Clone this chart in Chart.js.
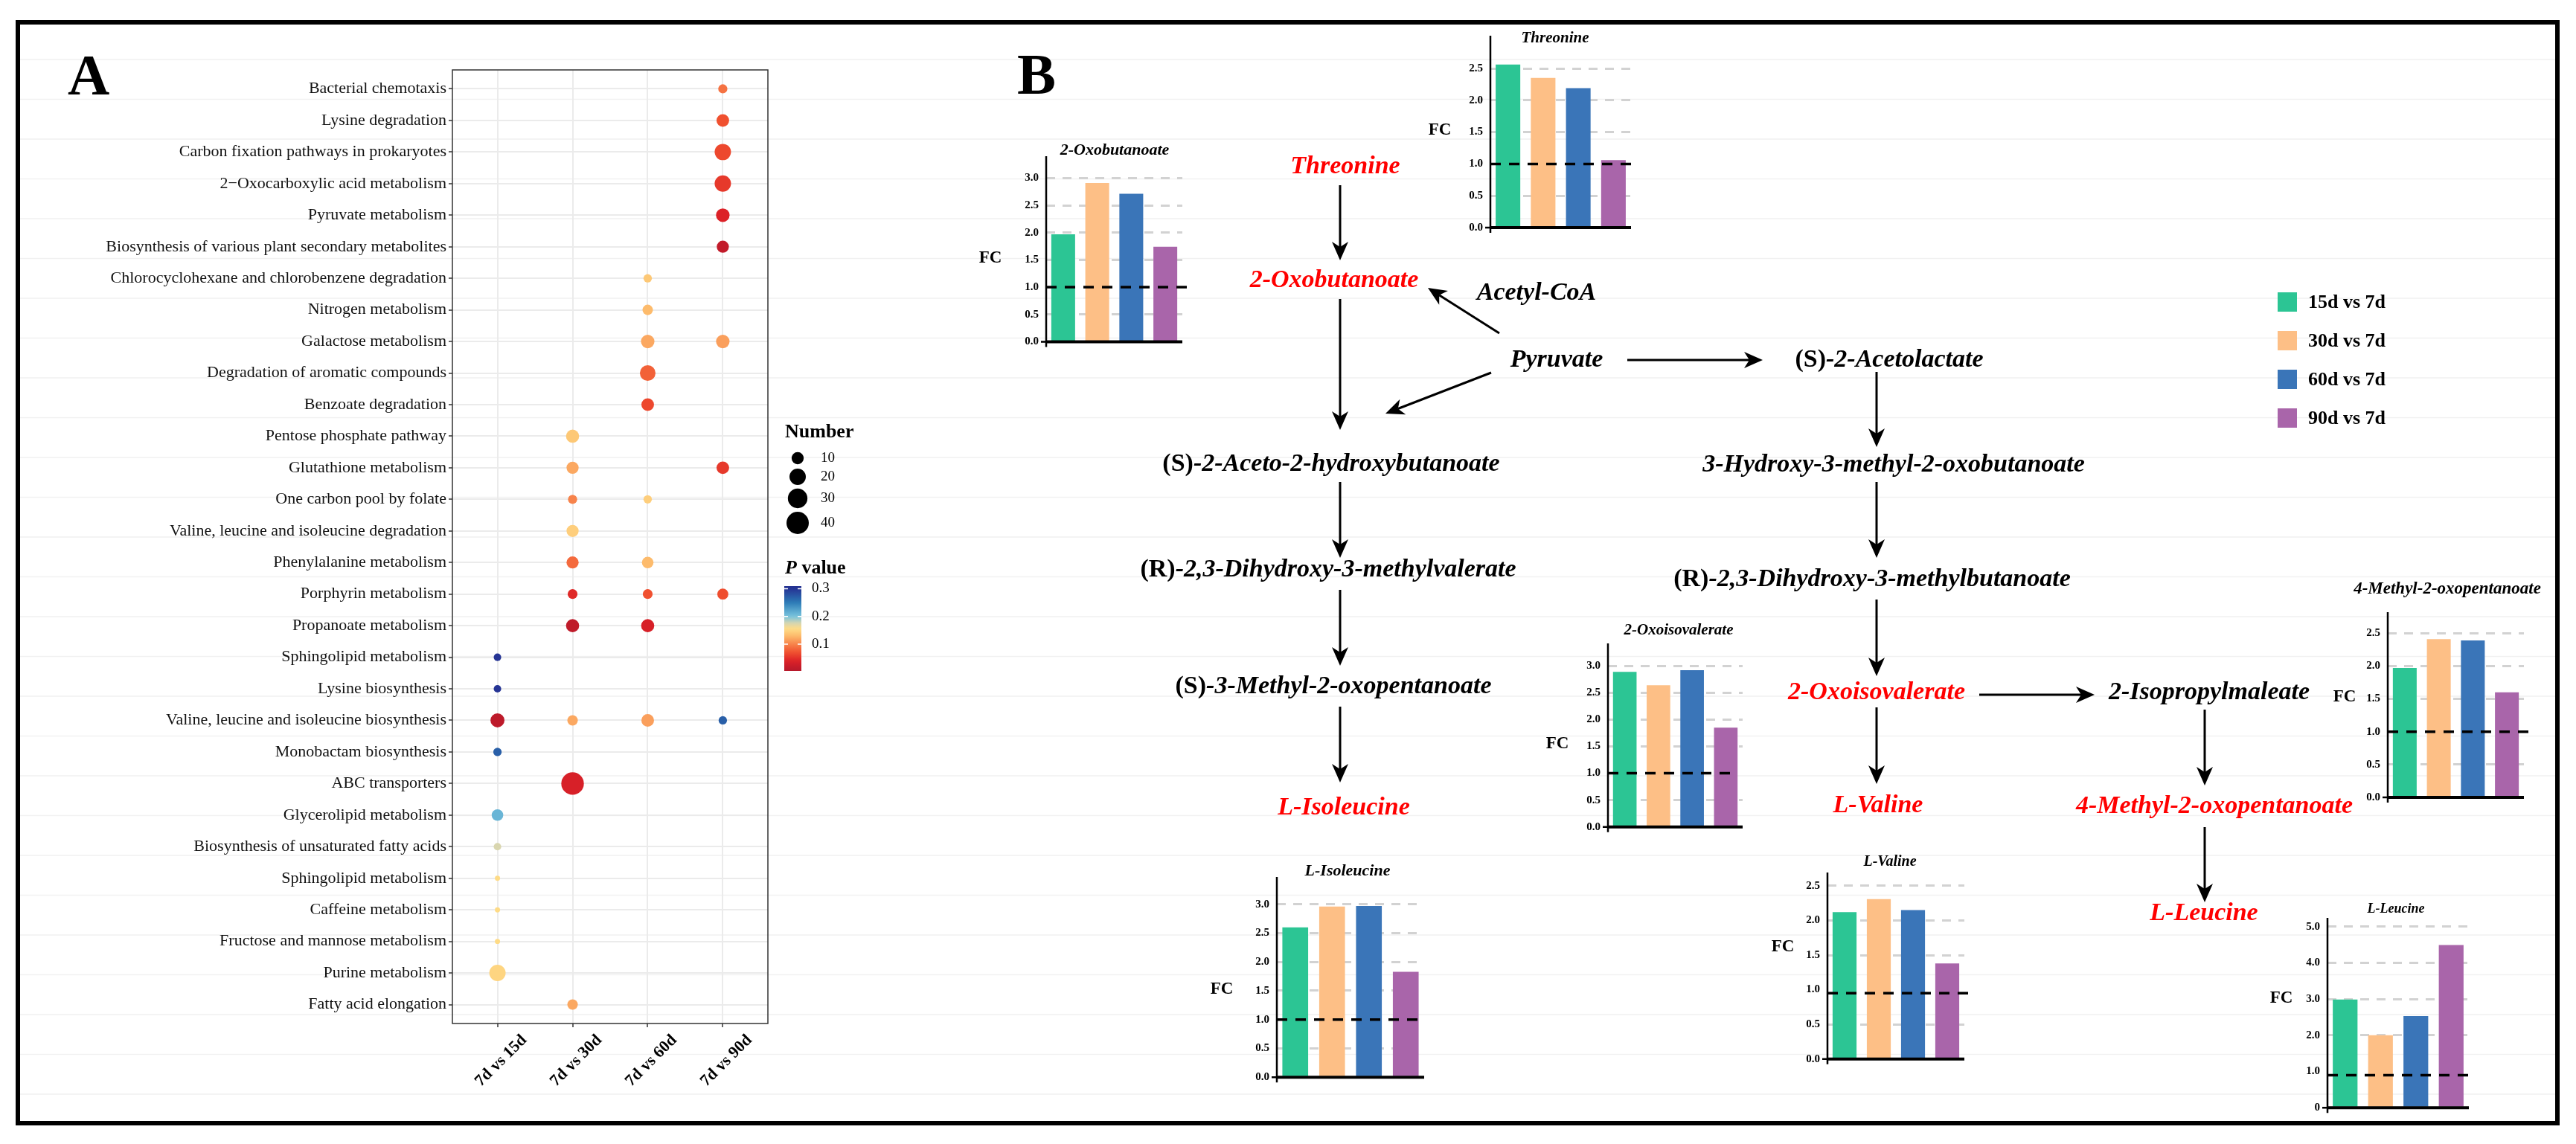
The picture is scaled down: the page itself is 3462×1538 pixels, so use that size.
<!DOCTYPE html>
<html>
<head>
<meta charset="utf-8">
<script src="https://cdn.jsdelivr.net/npm/chart.js@4.4.1/dist/chart.umd.min.js"></script>
<style>
  html, body { margin: 0; padding: 0; background: #fff; }
  #fig { position: relative; width: 3462px; height: 1538px; overflow: hidden; }
  #fig canvas { position: absolute; }
</style>
</head>
<body>
<div id="fig">
  <canvas id="bg" width="3462" height="1538" style="left:0;top:0"></canvas>
  <canvas id="dots" width="1290" height="1538" style="left:0;top:0"></canvas>
</div>
<script>
// ---------- panel A data ----------
const comparisons = ['7d vs 15d', '7d vs 30d', '7d vs 60d', '7d vs 90d'];
const pathways = [
  'Bacterial chemotaxis', 'Lysine degradation', 'Carbon fixation pathways in prokaryotes',
  '2\u2212Oxocarboxylic acid metabolism', 'Pyruvate metabolism',
  'Biosynthesis of various plant secondary metabolites',
  'Chlorocyclohexane and chlorobenzene degradation', 'Nitrogen metabolism',
  'Galactose metabolism', 'Degradation of aromatic compounds', 'Benzoate degradation',
  'Pentose phosphate pathway', 'Glutathione metabolism', 'One carbon pool by folate',
  'Valine, leucine and isoleucine degradation', 'Phenylalanine metabolism',
  'Porphyrin metabolism', 'Propanoate metabolism', 'Sphingolipid metabolism',
  'Lysine biosynthesis', 'Valine, leucine and isoleucine biosynthesis',
  'Monobactam biosynthesis', 'ABC transporters', 'Glycerolipid metabolism',
  'Biosynthesis of unsaturated fatty acids', 'Sphingolipid metabolism',
  'Caffeine metabolism', 'Fructose and mannose metabolism', 'Purine metabolism',
  'Fatty acid elongation'
];
// one entry per dot
const dotPathway    = [0, 1, 2, 3, 4, 5, 6, 7, 8, 8, 9, 10, 11, 12, 12, 13, 13, 14, 15, 15,
                       16, 16, 16, 17, 17, 18, 19, 20, 20, 20, 20, 21, 22, 23, 24, 25, 26, 27, 28, 29];
const dotComparison = [3, 3, 3, 3, 3, 3, 2, 2, 2, 3, 2, 2, 1, 1, 3, 1, 2, 1, 1, 2,
                       1, 2, 3, 1, 2, 0, 0, 0, 1, 2, 3, 0, 1, 0, 0, 0, 0, 0, 0, 1];
const dotNumber     = [5, 11, 20, 20, 13, 10, 4, 7, 13, 13, 18, 11, 12, 10, 11, 5, 4, 10, 10, 9,
                       6, 6, 8, 12, 12, 3, 3, 14, 7, 11, 4, 4, 41, 9, 3, 1, 1, 1, 20, 7];
const dotPValue     = [0.09, 0.07, 0.065, 0.055, 0.04, 0.015, 0.14, 0.13, 0.12, 0.115, 0.08, 0.065,
                       0.14, 0.12, 0.055, 0.10, 0.145, 0.145, 0.085, 0.13,
                       0.045, 0.07, 0.068, 0.012, 0.035, 0.30, 0.30, 0.01, 0.12, 0.115, 0.27,
                       0.27, 0.035, 0.21, 0.175, 0.155, 0.155, 0.155, 0.15, 0.12];
const sizeBreaks = [10, 20, 30, 40];
const pBreaks = [0.1, 0.2, 0.3];

// ---------- panel B data ----------
const fcGroups = ['15d vs 7d', '30d vs 7d', '60d vs 7d', '90d vs 7d'];
const fcThreonine      = [2.56, 2.35, 2.19, 1.06];
const fcOxobutanoate   = [1.97, 2.91, 2.71, 1.74];
const fcOxoisovalerate = [2.89, 2.64, 2.92, 1.85];
const fcIsoleucine     = [2.60, 2.96, 2.97, 1.83];
const fcValine         = [2.12, 2.31, 2.15, 1.38];
const fcLeucine        = [2.99, 2.00, 2.53, 4.49];
const fcMethylOxo      = [1.97, 2.41, 2.39, 1.60];
const ticks25 = [0, 0.5, 1, 1.5, 2, 2.5];
const ticks30 = [0, 0.5, 1, 1.5, 2, 2.5, 3];
const ticks50 = [0, 1, 2, 3, 4, 5];
const ticks50Text = ['0', '1.0', '2.0', '3.0', '4.0', '5.0'];

// ---------- styles ----------
const SERIF = '"Liberation Serif", "Times New Roman", serif';
const fcColors = ['#2cc594', '#fdbf86', '#3a75b8', '#a965aa'];
const pStops = [
  [0.00, [178, 24, 43]], [0.04, [220, 33, 39]], [0.07, [240, 80, 47]],
  [0.10, [247, 131, 75]], [0.13, [253, 187, 108]], [0.155, [254, 219, 134]],
  [0.175, [217, 214, 175]], [0.20, [120, 196, 222]], [0.25, [44, 123, 182]],
  [0.30, [37, 52, 148]], [0.32, [35, 45, 140]]
];
Chart.defaults.font.family = SERIF;

function pColor(p) {
  let i = 0;
  while (i < pStops.length - 2 && p > pStops[i + 1][0]) i++;
  const [p0, c0] = pStops[i], [p1, c1] = pStops[i + 1];
  const t = Math.max(0, Math.min(1, (p - p0) / (p1 - p0)));
  const c = c0.map((v, k) => Math.round(v + (c1[k] - v) * t));
  return `rgb(${c[0]},${c[1]},${c[2]})`;
}
function dotRadius(n) { return (2.6 + 4.33 * Math.sqrt(n)) / 2; }

const fig = document.getElementById('fig');

// ---------- background: frame, pathway, legend ----------
const nodes = [
  ['', 'Threonine', 1808, 233, 'red'],
  ['', '2-Oxobutanoate', 1793, 386, 'red'],
  ['', 'Acetyl-CoA', 2065, 403, 'black'],
  ['', 'Pyruvate', 2092, 493, 'black'],
  ['(S)', '-2-Acetolactate', 2539, 493, 'black'],
  ['(S)', '-2-Aceto-2-hydroxybutanoate', 1789, 633, 'black'],
  ['', '3-Hydroxy-3-methyl-2-oxobutanoate', 2545, 634, 'black'],
  ['(R)', '-2,3-Dihydroxy-3-methylvalerate', 1785, 775, 'black'],
  ['(R)', '-2,3-Dihydroxy-3-methylbutanoate', 2516, 788, 'black'],
  ['(S)', '-3-Methyl-2-oxopentanoate', 1792, 932, 'black'],
  ['', '2-Oxoisovalerate', 2522, 940, 'red'],
  ['', '2-Isopropylmaleate', 2969, 940, 'black'],
  ['', 'L-Isoleucine', 1806, 1095, 'red'],
  ['', 'L-Valine', 2524, 1092, 'red'],
  ['', '4-Methyl-2-oxopentanoate', 2976, 1093, 'red'],
  ['', 'L-Leucine', 2962, 1237, 'red']
];
const arrows = [
  [1801, 249, 1801, 350], [2015, 448, 1919, 387], [1801, 402, 1801, 578],
  [2004, 501, 1862, 556], [2187, 484, 2369, 484], [1801, 648, 1801, 750],
  [1801, 793, 1801, 895], [1801, 950, 1801, 1052], [2522, 500, 2522, 601],
  [2522, 648, 2522, 750], [2522, 806, 2522, 909], [2660, 934, 2815, 934],
  [2522, 951, 2522, 1054], [2963, 954, 2963, 1056], [2963, 1112, 2963, 1213]
];

function drawArrow(ctx, x1, y1, x2, y2) {
  const a = Math.atan2(y2 - y1, x2 - x1), c = Math.cos(a), s = Math.sin(a);
  const len = 25, half = 11, notch = 7;
  ctx.lineWidth = 3;
  ctx.beginPath();
  ctx.moveTo(x1, y1);
  ctx.lineTo(x2 - c * (len - notch), y2 - s * (len - notch));
  ctx.stroke();
  ctx.beginPath();
  ctx.moveTo(x2, y2);
  ctx.lineTo(x2 - c * len - s * half, y2 - s * len + c * half);
  ctx.lineTo(x2 - c * (len - notch), y2 - s * (len - notch));
  ctx.lineTo(x2 - c * len + s * half, y2 - s * len - c * half);
  ctx.closePath();
  ctx.fill();
}

function drawBackground() {
  const ctx = document.getElementById('bg').getContext('2d');
  ctx.fillStyle = '#fff';
  ctx.fillRect(0, 0, 3462, 1538);
  ctx.strokeStyle = '#f1f1f1';
  ctx.lineWidth = 1.5;
  for (let y = 80; y < 1500; y += 53.5) {
    ctx.beginPath(); ctx.moveTo(26, y); ctx.lineTo(3436, y); ctx.stroke();
  }
  ctx.strokeStyle = '#000';
  ctx.lineWidth = 6;
  ctx.strokeRect(24, 30, 3413, 1480);

  ctx.fillStyle = '#000';
  ctx.textBaseline = 'alphabetic';
  ctx.textAlign = 'left';
  ctx.font = `bold 78px ${SERIF}`;
  ctx.fillText('A', 91, 127);
  ctx.fillText('B', 1367, 126);

  nodes.forEach(([pre, name, cx, base, color]) => {
    const fPre = `bold 34px ${SERIF}`, fName = `bold italic 34px ${SERIF}`;
    ctx.font = fPre;
    const w1 = pre ? ctx.measureText(pre).width : 0;
    ctx.font = fName;
    const w2 = ctx.measureText(name).width;
    const x = cx - (w1 + w2) / 2;
    ctx.fillStyle = color === 'red' ? '#ff0000' : '#000';
    if (pre) { ctx.font = fPre; ctx.fillText(pre, x, base); }
    ctx.font = fName;
    ctx.fillText(name, x + w1, base);
  });

  ctx.fillStyle = '#000';
  ctx.strokeStyle = '#000';
  arrows.forEach(a => drawArrow(ctx, ...a));

  // group legend
  const legY = [393, 445, 497, 549];
  ctx.font = `bold 26px ${SERIF}`;
  ctx.textBaseline = 'middle';
  fcGroups.forEach((g, i) => {
    ctx.fillStyle = fcColors[i];
    ctx.fillRect(3061, legY[i], 26, 26);
    ctx.fillStyle = '#000';
    ctx.fillText(g, 3102, legY[i] + 14);
  });
}
drawBackground();

// ---------- panel A dot plot ----------
const dotDecor = {
  id: 'dotDecor',
  afterDatasetsDraw(chart) {
    const { ctx, chartArea: a } = chart;
    ctx.save();
    ctx.strokeStyle = '#333';
    ctx.lineWidth = 1.5;
    ctx.strokeRect(a.left, a.top, a.right - a.left, a.bottom - a.top);
    ctx.restore();
  },
  afterDraw(chart) {
    const { ctx } = chart;
    const xs = chart.scales.x;
    ctx.save();
    ctx.fillStyle = '#000';
    ctx.font = `bold 22px ${SERIF}`;
    ctx.textAlign = 'right';
    ctx.textBaseline = 'middle';
    comparisons.forEach((c, i) => {
      ctx.save();
      ctx.translate(xs.getPixelForValue(i) + 36, 1395);
      ctx.rotate(-Math.PI / 4);
      ctx.fillText(c, 0, 0);
      ctx.restore();
    });

    // size legend
    ctx.textAlign = 'left';
    ctx.textBaseline = 'alphabetic';
    ctx.font = `bold 26px ${SERIF}`;
    ctx.fillText('Number', 1055, 588);
    const sizeY = [616, 641, 670, 703];
    ctx.font = `19px ${SERIF}`;
    ctx.textBaseline = 'middle';
    sizeBreaks.forEach((n, i) => {
      ctx.beginPath();
      ctx.arc(1072, sizeY[i], dotRadius(n), 0, Math.PI * 2);
      ctx.fill();
      ctx.fillText(String(n), 1103, sizeY[i]);
    });

    // p value colour bar
    ctx.textBaseline = 'alphabetic';
    ctx.font = `bold italic 26px ${SERIF}`;
    ctx.fillText('P', 1055, 771);
    const wP = ctx.measureText('P').width;
    ctx.font = `bold 26px ${SERIF}`;
    ctx.fillText(' value', 1055 + wP, 771);
    const yOf = p => 866 - (p - 0.1) * 373;
    const top = 788, bot = 902;
    const pTop = 0.1 + (866 - top) / 373, pBot = 0.1 - (bot - 866) / 373;
    const grad = ctx.createLinearGradient(0, bot, 0, top);
    for (let k = 0; k <= 30; k++) {
      const p = pBot + (pTop - pBot) * k / 30;
      grad.addColorStop(k / 30, pColor(p));
    }
    ctx.fillStyle = grad;
    ctx.fillRect(1054, top, 23, bot - top);
    ctx.strokeStyle = '#fff';
    ctx.lineWidth = 1.5;
    ctx.fillStyle = '#000';
    ctx.font = `19px ${SERIF}`;
    ctx.textBaseline = 'middle';
    pBreaks.forEach(p => {
      const y = yOf(p);
      ctx.beginPath();
      ctx.moveTo(1054, y); ctx.lineTo(1059, y);
      ctx.moveTo(1072, y); ctx.lineTo(1077, y);
      ctx.stroke();
      ctx.fillText(p.toFixed(1), 1091, y);
    });
    ctx.restore();
  }
};

new Chart(document.getElementById('dots'), {
  type: 'scatter',
  data: {
    datasets: [{
      data: dotPathway.map((row, i) => ({ x: dotComparison[i], y: row })),
      pointRadius: c => dotRadius(dotNumber[c.dataIndex]),
      pointHoverRadius: c => dotRadius(dotNumber[c.dataIndex]),
      pointBackgroundColor: c => pColor(dotPValue[c.dataIndex]),
      pointBorderWidth: 0
    }]
  },
  options: {
    responsive: false,
    animation: false,
    devicePixelRatio: 1,
    layout: { padding: { left: 30, top: 94, right: 258, bottom: 0 } },
    plugins: { legend: { display: false }, tooltip: { enabled: false } },
    scales: {
      x: {
        type: 'linear', min: -0.6, max: 3.6,
        afterBuildTicks: s => { s.ticks = comparisons.map((_, i) => ({ value: i })); },
        afterFit: s => { s.height = 162; },
        ticks: { display: false },
        grid: { color: '#ebebeb', lineWidth: 2, tickColor: '#333', tickLength: 5, tickWidth: 1.5 },
        border: { display: false }
      },
      y: {
        type: 'linear', reverse: true, min: -0.6, max: 29.6,
        afterBuildTicks: s => { s.ticks = pathways.map((_, i) => ({ value: i })); },
        afterFit: s => { s.width = 578; },
        ticks: {
          autoSkip: false, padding: 3, color: '#111',
          font: { family: SERIF, size: 22 },
          callback: v => pathways[Math.round(v)]
        },
        grid: { color: '#ebebeb', lineWidth: 2, tickColor: '#333', tickLength: 5, tickWidth: 1.5 },
        border: { display: false }
      }
    }
  },
  plugins: [dotDecor]
});

// ---------- panel B fold-change bar charts ----------
const barPanels = [
  { title: 'Threonine', values: fcThreonine, ticks: ticks25,
    axis: { x0: 2003, x1: 2192, top: 48, zero: 306 }, topTick: [2.5, 92],
    titlePos: [2090, 57, 21], fcPos: [1935, 175], ref: 1, refEnd: 2200 },
  { title: '2-Oxobutanoate', values: fcOxobutanoate, ticks: ticks30,
    axis: { x0: 1406, x1: 1589, top: 210, zero: 459.5 }, topTick: [3, 239.3],
    titlePos: [1498, 208, 22], fcPos: [1331, 347], ref: 1, refEnd: 1600 },
  { title: '2-Oxoisovalerate', values: fcOxoisovalerate, ticks: ticks30,
    axis: { x0: 2161, x1: 2342, top: 865, zero: 1111.7 }, topTick: [3, 895.3],
    titlePos: [2256, 853, 21], fcPos: [2093, 1000], ref: 1, refEnd: 2335 },
  { title: 'L-Isoleucine', values: fcIsoleucine, ticks: ticks30,
    axis: { x0: 1716, x1: 1914, top: 1179, zero: 1448.3 }, topTick: [3, 1215.7],
    titlePos: [1811, 1177, 22], fcPos: [1642, 1330], ref: 1, refEnd: 1916 },
  { title: 'L-Valine', values: fcValine, ticks: ticks25,
    axis: { x0: 2456, x1: 2640, top: 1173, zero: 1423.7 }, topTick: [2.5, 1191],
    titlePos: [2540, 1164, 20], fcPos: [2396, 1273], ref: 0.95, refEnd: 2646 },
  { title: 'L-Leucine', values: fcLeucine, ticks: ticks50, tickText: ticks50Text,
    axis: { x0: 3128, x1: 3318, top: 1234, zero: 1489.3 }, topTick: [5, 1245.7],
    titlePos: [3220, 1227, 18], fcPos: [3066, 1342], ref: 0.9, refEnd: 3320 },
  { title: '4-Methyl-2-oxopentanoate', values: fcMethylOxo, ticks: ticks25,
    axis: { x0: 3209, x1: 3392, top: 823, zero: 1072.1 }, topTick: [2.5, 851.3],
    titlePos: [3289, 798, 23], fcPos: [3151, 937], ref: 1, refEnd: 3399 }
];

function makeBar(p) {
  const ax = p.axis;
  const left = Math.round(ax.x0 - 150);
  const top = Math.floor(Math.min(ax.top, p.titlePos[1] - 30) - 10);
  const right = Math.ceil(Math.max(ax.x1, p.refEnd) + 30);
  const bottom = Math.ceil(ax.zero + 30);
  const cv = document.createElement('canvas');
  cv.width = right - left;
  cv.height = bottom - top;
  cv.style.left = left + 'px';
  cv.style.top = top + 'px';
  fig.appendChild(cv);
  const yW = 50;
  const yMax = p.topTick[0] * (ax.zero - ax.top) / (ax.zero - p.topTick[1]);

  const decor = {
    id: 'fcDecor',
    afterDatasetsDraw(chart) {
      const { ctx, chartArea: a, scales: { y } } = chart;
      ctx.save();
      ctx.strokeStyle = '#000';
      ctx.lineWidth = 2.5;
      ctx.beginPath();
      ctx.moveTo(a.left, a.top); ctx.lineTo(a.left, a.bottom + 7);
      ctx.moveTo(a.left - 7, a.bottom); ctx.lineTo(a.left, a.bottom);
      ctx.stroke();
      ctx.lineWidth = 4;
      ctx.beginPath();
      ctx.moveTo(a.left, a.bottom); ctx.lineTo(a.right, a.bottom);
      ctx.stroke();
      const yr = y.getPixelForValue(p.ref);
      ctx.setLineDash([14, 11]);
      ctx.lineWidth = 3.5;
      ctx.beginPath();
      ctx.moveTo(a.left, yr); ctx.lineTo(p.refEnd - left, yr);
      ctx.stroke();
      ctx.setLineDash([]);
      ctx.fillStyle = '#000';
      ctx.textAlign = 'center';
      ctx.textBaseline = 'alphabetic';
      ctx.font = `bold italic ${p.titlePos[2]}px ${SERIF}`;
      ctx.fillText(p.title, p.titlePos[0] - left, p.titlePos[1] - top);
      ctx.font = `bold 23px ${SERIF}`;
      ctx.textBaseline = 'middle';
      ctx.fillText('FC', p.fcPos[0] - left, p.fcPos[1] - top);
      ctx.restore();
    }
  };

  new Chart(cv, {
    type: 'bar',
    data: {
      labels: fcGroups,
      datasets: [{
        data: p.values,
        backgroundColor: fcColors,
        borderWidth: 0,
        barPercentage: 0.7,
        categoryPercentage: 1
      }]
    },
    options: {
      responsive: false,
      animation: false,
      devicePixelRatio: 1,
      layout: { padding: { left: 150 - yW, top: ax.top - top, right: right - ax.x1, bottom: bottom - ax.zero } },
      plugins: { legend: { display: false }, tooltip: { enabled: false } },
      scales: {
        x: {
          ticks: { display: false },
          grid: { display: false },
          border: { display: false },
          afterFit: s => { s.height = 0; }
        },
        y: {
          min: 0, max: yMax,
          afterBuildTicks: s => { s.ticks = p.ticks.map(v => ({ value: v })); },
          afterFit: s => { s.width = yW; },
          ticks: {
            padding: 10, color: '#000',
            font: { family: SERIF, size: 15, weight: 'bold' },
            callback: (v, i) => p.tickText ? p.tickText[i] : Number(v).toFixed(1)
          },
          grid: {
            drawTicks: false,
            lineWidth: 3,
            color: c => (c.tick && (c.tick.value === 0 || c.tick.value === 1)) ? 'rgba(0,0,0,0)' : '#d2d2d2'
          },
          border: { display: false, dash: [12, 10] }
        }
      }
    },
    plugins: [decor]
  });
}
barPanels.forEach(makeBar);
</script>
</body>
</html>
